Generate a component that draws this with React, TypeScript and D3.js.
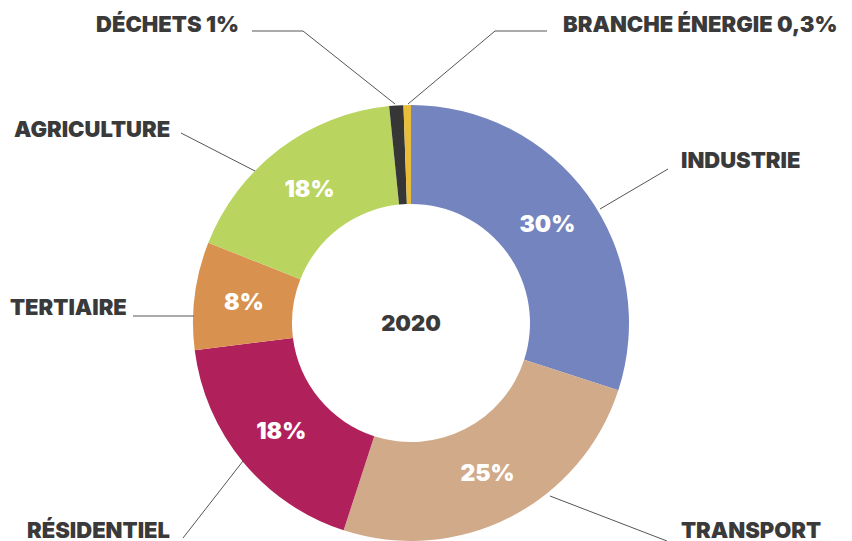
import React from "react";
import * as d3 from "d3";

const categories = ["INDUSTRIE", "TRANSPORT", "RÉSIDENTIEL", "TERTIAIRE", "AGRICULTURE", "DÉCHETS 1%", "BRANCHE ÉNERGIE 0,3%"];
const values = [30, 25, 18, 8, 17.4, 1.05, 0.55];
const valueLabels = ["30%", "25%", "18%", "8%", "18%", "", ""];
const colors = ["#7484BF", "#D1AA8A", "#B0215B", "#D9914F", "#B9D45F", "#363636", "#E8BD3C"];
const centerTitle = "2020";

// label placement: text position, leader points
const labelPos: { x: number; y: number; anchor: string; pts: [number, number][] }[] = [
  { x: 681, y: 168, anchor: "start", pts: [[668, 169], [600, 209]] },
  { x: 681, y: 538, anchor: "start", pts: [[667, 541], [550, 496]] },
  { x: 27, y: 538, anchor: "start", pts: [[183, 538], [243, 461]] },
  { x: 10, y: 315, anchor: "start", pts: [[133, 316], [194, 316]] },
  { x: 14, y: 137, anchor: "start", pts: [[181, 133], [255, 171]] },
  { x: 96, y: 32, anchor: "start", pts: [[252, 31], [303, 31], [395, 104]] },
  { x: 563, y: 32, anchor: "start", pts: [[547, 31], [495, 31], [408, 104]] },
];

export default function App() {
  const W = 852, H = 541;
  const cx = 411, cy = 323, R = 218, r = 119;
  const pie = d3.pie<number>().sort(null).value((d) => d).startAngle(0).endAngle(2 * Math.PI);
  const arcs = pie(values);
  const arc = d3.arc<d3.PieArcDatum<number>>().innerRadius(r).outerRadius(R);
  const font = "Inter, 'DejaVu Sans', sans-serif";
  return (
    <svg width={W} height={H} style={{ position: "absolute", left: 0, top: 0, background: "#fff" }}>
      <g transform={`translate(${cx},${cy})`}>
        {arcs.map((a, i) => (
          <path key={i} d={arc(a) || ""} fill={colors[i]} />
        ))}
        {arcs.map((a, i) => {
          const [x, y] = arc.centroid(a);
          return valueLabels[i] ? (
            <text key={"v" + i} x={x} y={y} dy="0.36em" textAnchor="middle" fill="#fff"
              style={{ fontFamily: font, fontWeight: 900, fontSize: 23 }}>{valueLabels[i]}</text>
          ) : null;
        })}
        <text x={0} y={8} textAnchor="middle" fill="#3a3a3a" style={{ fontFamily: font, fontWeight: 900, fontSize: 22 }}>{centerTitle}</text>
      </g>
      {labelPos.map((l, i) => (
        <g key={"l" + i}>
          <polyline points={l.pts.map((p) => p.join(",")).join(" ")} fill="none" stroke="#555" strokeWidth={1} />
          <text x={l.x} y={l.y} textAnchor={l.anchor as any} fill="#3a3a3a"
            style={{ fontFamily: font, fontWeight: 900, fontSize: 22 }}>{categories[i]}</text>
        </g>
      ))}
    </svg>
  );
}
